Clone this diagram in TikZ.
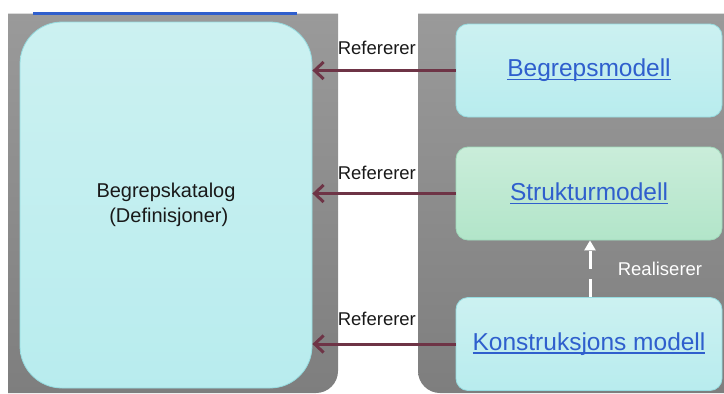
\documentclass[tikz,border=0pt]{standalone}
\usepackage{fontspec}
\setmainfont{Liberation Sans}
\usetikzlibrary{arrows.meta}
\definecolor{panelTop}{RGB}{154,154,154}
\definecolor{panelBot}{RGB}{126,126,126}
\definecolor{cyanTop}{RGB}{204,241,241}
\definecolor{cyanBot}{RGB}{184,236,238}
\definecolor{cyanLine}{RGB}{150,220,224}
\definecolor{greenTop}{RGB}{202,237,218}
\definecolor{greenBot}{RGB}{178,229,201}
\definecolor{greenLine}{RGB}{160,218,188}
\definecolor{linkBlue}{RGB}{47,95,205}
\definecolor{refArrow}{RGB}{110,52,70}
\definecolor{txtDark}{RGB}{25,25,25}
\newcommand\ulink[1]{\setbox0=\hbox{#1}\rlap{\rule[-3.6pt]{\wd0}{1.5pt}}\box0}
\tikzset{
  panel/.style={top color=panelTop, bottom color=panelBot, draw=none},
  modelbox/.style={shade, top color=cyanTop, bottom color=cyanBot, draw=cyanLine, line width=0.8pt,
    rounded corners=12pt, minimum width=266pt, minimum height=93pt, inner sep=0pt,
    text=linkBlue, font=\fontsize{24.5}{28}\selectfont},
  greenbox/.style={modelbox, top color=greenTop, bottom color=greenBot, draw=greenLine},
  catbox/.style={shade, top color=cyanTop, bottom color=cyanBot, draw=cyanLine, line width=0.8pt,
    rounded corners=42pt, minimum width=292pt, minimum height=366pt, inner sep=0pt,
    text=txtDark, align=center, font=\fontsize{20}{25}\selectfont},
  refarrow/.style={draw=refArrow, line width=3pt, -{Straight Barb[length=9pt,width=17pt]}},
  reflabel/.style={text=txtDark, font=\fontsize{18.5}{22}\selectfont},
  realarrow/.style={draw=white, line width=3pt, dash pattern=on 18pt off 10pt,
    -{Triangle[length=10pt,width=11pt]}},
  reallabel/.style={text=white, font=\fontsize{18.5}{22}\selectfont}
}
\begin{document}
\begin{tikzpicture}[x=1pt,y=-1pt]
\useasboundingbox (0,0) rectangle (724,394);
% grey panels
\shade[panel] (8,13.5) -- (338,13.5) -- (338,371) arc[start angle=0,end angle=90,radius=22] -- (8,393) -- cycle;
\shade[panel] (418,13.5) -- (724,13.5) -- (724,393) -- (440,393) arc[start angle=90,end angle=180,radius=22] -- cycle;
% cut-off link underline at top
\fill[linkBlue] (33,12) rectangle (297,15);
% nodes
\node[catbox] (cat) at (166,205) {Begrepskatalog\\\ (Definisjoner)};
\node[modelbox] (bm) at (589,70.5) {\ulink{Begrepsmodell}};
\node[greenbox] (sm) at (589,193.5) {\ulink{Strukturmodell}};
\node[modelbox] (km) at (589,344) {\ulink{Konstruksjons modell}};
% reference arrows
\draw[refarrow] (bm.west) -- (bm.west -| cat.east) node[reflabel, pos=0.55, yshift=23pt] {Refererer};
\draw[refarrow] (sm.west) -- (sm.west -| cat.east) node[reflabel, pos=0.55, yshift=21pt] {Refererer};
\draw[refarrow] (km.west) -- (km.west -| cat.east) node[reflabel, pos=0.55, yshift=25pt] {Refererer};
% realisation arrow
\coordinate (rs) at ([xshift=1pt]km.north);
\draw[realarrow] (rs) -- (rs |- sm.south) node[reallabel, pos=0.5, xshift=70pt] {Realiserer};
\end{tikzpicture}
\end{document}
